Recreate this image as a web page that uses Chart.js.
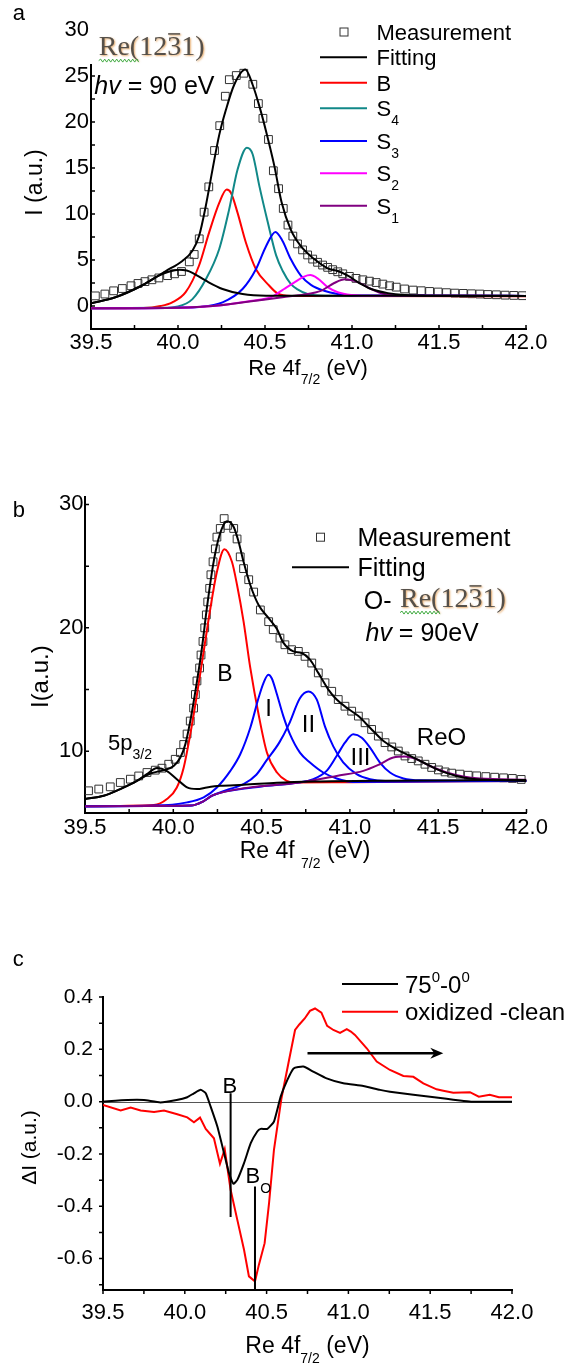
<!DOCTYPE html>
<html><head><meta charset="utf-8">
<script src="https://cdn.jsdelivr.net/npm/chart.js@4.4.0/dist/chart.umd.min.js"></script>
<style>
html,body{margin:0;padding:0;background:#fff;}
body{width:573px;height:1364px;position:relative;overflow:hidden;}
canvas{position:absolute;left:0;}
</style></head><body>
<canvas id="ca" width="573" height="390" style="top:0px"></canvas>
<canvas id="cb" width="573" height="400" style="top:470px"></canvas>
<canvas id="cc" width="573" height="424" style="top:940px"></canvas>
<script>
// ================= DATA =================
// shared tick labels
const xTicks = [39.5, 40.0, 40.5, 41.0, 41.5, 42.0];
const aYTicks = [0, 5, 10, 15, 20, 25, 30];
const bYTicks = [10, 20, 30];
const cYTicks = [-0.6, -0.4, -0.2, 0.0, 0.2, 0.4];

// ---- panel a: clean Re(12-31), hv = 90 eV ----
const aMeasE = [39.525,39.58,39.63,39.68,39.73,39.77,39.81,39.85,39.89,39.94,39.98,40.02,40.065,40.093,40.122,40.15,40.177,40.21,40.24,40.272,40.295,40.335,40.378,40.43,40.462,40.488,40.52,40.548,40.578,40.605,40.632,40.66,40.687,40.716,40.745,40.774,40.802,40.831,40.86,40.889,40.918,40.947,40.985,41.023,41.062,41.1,41.139,41.177,41.216,41.254,41.302,41.351,41.398,41.446,41.495,41.543,41.591,41.639,41.687,41.735,41.78,41.83,41.88,41.93,41.98];
const aMeasI = [1.1,1.3,1.65,1.9,2.2,2.45,2.65,2.85,3.05,3.3,3.5,3.75,4.8,5.6,7.3,10.2,12.95,16.9,19.6,22.8,24.6,25.05,25.3,24.1,22.0,20.4,18.1,14.7,12.75,10.6,8.8,7.6,6.75,6.1,5.55,5.1,4.75,4.45,4.2,3.95,3.72,3.5,3.22,3.0,2.85,2.7,2.55,2.38,2.2,2.05,1.85,1.73,1.66,1.58,1.52,1.45,1.4,1.37,1.33,1.3,1.25,1.22,1.18,1.15,1.12];
const aFitE = [39.5,39.64,39.79,39.93,40.025,40.083,40.121,40.16,40.198,40.237,40.275,40.323,40.387,40.429,40.468,40.506,40.554,40.595,40.648,40.706,40.783,40.86,40.918,40.976,41.033,41.11,41.206,41.302,41.5,42.0];
const aFitI = [0.3,0.95,2.2,3.8,4.9,6.0,7.6,10.9,14.8,18.6,21.3,24.05,25.7,24.05,21.7,19.0,15.2,11.3,8.3,6.5,5.1,4.1,3.8,3.3,2.6,1.85,1.4,1.2,1.12,1.1];
const a5pE = [39.5,39.64,39.79,39.89,39.95,40.006,40.05,40.083,40.16,40.256,40.371,40.506,42.0];
const a5pI = [0.3,0.95,2.2,3.3,3.75,3.95,3.85,3.6,2.75,1.85,1.3,1.12,1.1];
const aBE = [39.5,39.8,39.9,39.967,40.044,40.121,40.179,40.237,40.28,40.304,40.342,40.39,40.448,40.525,40.57,40.65,42.0];
const aBI = [-0.25,-0.22,0.0,0.4,1.5,4.4,8.0,11.2,12.65,12.3,10.15,6.9,4.0,2.2,1.4,1.1,1.05];
const aS4E = [39.5,39.9,40.0,40.083,40.16,40.237,40.294,40.342,40.396,40.429,40.468,40.516,40.564,40.602,40.648,40.687,40.745,40.85,42.0];
const aS4I = [-0.25,-0.2,-0.05,0.75,2.9,6.2,10.5,14.8,17.2,16.5,13.0,9.1,5.5,3.8,2.4,1.8,1.3,1.12,1.1];
const aS3E = [39.5,40.0,40.121,40.256,40.371,40.448,40.506,40.56,40.6,40.648,40.706,40.764,40.84,40.918,41.0,42.0];
const aS3I = [-0.25,-0.18,-0.1,0.4,1.85,4.0,6.5,8.05,7.1,5.1,3.3,2.3,1.65,1.3,1.15,1.1];
const aS2E = [39.5,40.0,40.2,40.4,40.533,40.578,40.61,40.667,40.725,40.76,40.802,40.86,40.918,40.995,41.1,42.0];
const aS2I = [-0.25,-0.18,0.0,0.5,0.95,1.45,1.85,2.55,3.2,3.36,3.0,2.05,1.5,1.2,1.12,1.1];
const aS1E = [39.5,40.0,40.2,40.4,40.6,40.725,40.821,40.898,40.96,41.033,41.11,41.187,41.3,42.0];
const aS1I = [-0.25,-0.18,0.0,0.45,0.95,1.25,1.65,2.5,2.9,2.6,1.85,1.3,1.12,1.1];

// ---- panel b: O-Re(12-31), hv = 90 eV ----
const bMeasE = [39.52,39.578,39.643,39.70,39.757,39.804,39.851,39.898,39.936,39.974,40.011,40.04,40.059,40.078,40.096,40.115,40.125,40.134,40.149,40.157,40.168,40.178,40.187,40.195,40.206,40.213,40.225,40.238,40.247,40.266,40.288,40.308,40.342,40.361,40.379,40.398,40.427,40.455,40.493,40.54,40.566,40.604,40.632,40.67,40.708,40.746,40.784,40.821,40.859,40.897,40.934,40.972,41.01,41.048,41.086,41.123,41.161,41.199,41.237,41.274,41.312,41.35,41.387,41.425,41.463,41.501,41.539,41.576,41.623,41.67,41.718,41.77,41.82,41.87,41.92,41.97];
const bMeasI = [6.8,6.94,7.12,7.47,7.74,8.0,8.28,8.47,8.63,8.95,9.35,9.9,10.55,11.4,12.45,13.5,14.6,15.7,16.75,17.8,18.9,20.0,21.05,22.1,23.2,24.3,25.35,26.4,27.35,28.05,28.85,28.3,28.05,27.2,25.75,24.8,23.9,22.9,21.45,20.5,19.85,19.17,18.63,18.23,18.09,17.69,17.15,16.35,15.55,14.86,14.19,13.65,13.25,12.85,12.31,11.77,11.23,10.7,10.35,10.02,9.62,9.41,9.22,8.95,8.69,8.49,8.33,8.23,8.15,8.06,8.01,7.95,7.9,7.85,7.8,7.72];
const bFitE = [39.5,39.606,39.7,39.794,39.87,39.946,40.002,40.04,40.068,40.096,40.134,40.162,40.19,40.219,40.247,40.275,40.304,40.342,40.37,40.398,40.436,40.483,40.54,40.587,40.623,40.68,40.727,40.774,40.821,40.878,40.925,40.99,41.048,41.114,41.19,41.265,41.341,41.416,41.491,41.567,41.642,41.718,41.85,42.0];
const bFitI = [6.13,6.4,6.94,7.6,8.2,8.47,8.81,9.49,10.56,12.44,15.67,18.36,21.59,24.54,26.69,28.04,28.63,28.17,26.96,25.35,23.47,21.85,20.78,19.9,18.8,18.09,17.96,17.42,16.35,15.0,14.19,13.44,12.85,11.91,10.83,10.16,9.62,9.09,8.55,8.15,7.88,7.74,7.65,7.6];
const b5pE = [39.5,39.606,39.7,39.794,39.85,39.908,39.964,40.02,40.078,40.134,40.19,40.266,40.398,40.587,40.8,41.2,42.0];
const b5pI = [6.13,6.4,6.94,7.6,8.15,8.65,8.4,7.74,7.07,6.94,7.07,7.2,7.28,7.45,7.55,7.62,7.68];
const bBE = [39.5,39.89,39.964,40.02,40.059,40.096,40.134,40.172,40.21,40.247,40.289,40.332,40.361,40.398,40.436,40.483,40.53,40.587,40.642,40.68,41.0,42.0];
const bBI = [5.55,5.64,6.13,7.07,8.69,11.37,14.6,18.09,21.59,24.54,26.37,25.35,23.47,20.51,16.75,12.98,9.9,8.28,7.6,7.47,7.5,7.6];
const bP1E = [39.5,39.9,40.078,40.172,40.247,40.323,40.379,40.436,40.483,40.51,40.538,40.558,40.585,40.623,40.661,40.717,40.774,40.849,40.925,41.019,42.0];
const bP1I = [5.55,5.6,5.86,6.27,7.07,8.41,9.76,11.91,14.33,15.5,16.2,15.9,14.7,12.85,11.37,9.89,9.09,8.28,7.8,7.52,7.6];
const bP2E = [39.5,40.1,40.17,40.22,40.3,40.4,40.47,40.53,40.6,40.655,40.717,40.765,40.812,40.859,40.906,40.962,41.038,41.114,41.2,42.0];
const bP2I = [5.55,5.6,5.95,6.4,6.85,7.35,8.1,9.3,10.7,12.2,14.3,14.85,14.2,12.0,10.4,9.1,8.15,7.74,7.6,7.6];
const bP3E = [39.5,40.1,40.17,40.22,40.3,40.5,40.7,40.793,40.868,40.925,40.972,41.019,41.067,41.114,41.17,41.227,41.303,41.4,42.0];
const bP3I = [5.55,5.6,5.95,6.4,6.75,7.15,7.45,7.74,8.41,9.62,10.7,11.37,11.1,10.3,9.09,8.28,7.8,7.65,7.6];
const bReOE = [39.5,40.1,40.17,40.22,40.3,40.45,40.6,40.736,40.925,41.076,41.17,41.246,41.312,41.378,41.454,41.548,41.642,41.736,42.0];
const bReOI = [5.55,5.6,5.95,6.4,6.75,7.1,7.3,7.52,8.0,8.41,8.95,9.49,9.57,9.35,8.81,8.28,7.96,7.8,7.7];

// ---- panel c: difference spectra ----
const cAngE = [39.5,39.65,39.75,39.85,39.95,40.015,40.056,40.097,40.128,40.158,40.199,40.24,40.27,40.297,40.321,40.362,40.403,40.443,40.464,40.505,40.545,40.586,40.627,40.665,40.724,40.785,40.867,40.969,41.091,41.193,41.254,41.397,41.499,41.6,41.682,41.75,42.0];
const cAngI = [0.0,0.006,0.006,-0.003,0.006,0.017,0.032,0.045,0.032,-0.019,-0.095,-0.197,-0.273,-0.314,-0.299,-0.235,-0.159,-0.114,-0.104,-0.104,-0.076,0.019,0.083,0.127,0.134,0.115,0.089,0.07,0.06,0.045,0.038,0.026,0.019,0.011,0.004,0.0,0.0];
const cOxE = [39.5,39.608,39.669,39.73,39.812,39.873,39.954,40.015,40.056,40.093,40.128,40.178,40.215,40.244,40.28,40.321,40.362,40.392,40.429,40.453,40.488,40.515,40.545,40.59,40.633,40.674,40.70,40.733,40.765,40.796,40.835,40.87,40.908,40.949,40.99,41.015,41.04,41.112,41.173,41.254,41.336,41.397,41.458,41.539,41.58,41.641,41.743,41.797,41.864,41.92,42.0];
const cOxI = [-0.013,-0.034,-0.023,-0.034,-0.04,-0.034,-0.048,-0.06,-0.079,-0.061,-0.104,-0.14,-0.238,-0.182,-0.337,-0.452,-0.566,-0.668,-0.687,-0.623,-0.541,-0.388,-0.184,0.01,0.146,0.274,0.295,0.318,0.347,0.356,0.34,0.29,0.274,0.263,0.277,0.268,0.255,0.204,0.153,0.121,0.098,0.095,0.07,0.047,0.042,0.034,0.036,0.019,0.026,0.017,0.017];

// ================= HELPERS =================
const FONT = 'Liberation Sans';
const SERIF = 'Liberation Serif';
Chart.defaults.font.family = FONT;
Chart.defaults.color = '#000';

const pts = (E, I) => E.map((e, k) => ({x: e, y: I[k]}));
function curve(E, I, color, order, tension) {
  const d = {data: pts(E, I), showLine: true, borderColor: color, backgroundColor: color,
    borderWidth: 2, pointRadius: 0, pointHoverRadius: 0, order};
  if (tension === undefined) d.cubicInterpolationMode = 'monotone'; else d.tension = tension;
  return d;
}
function meas(E, I, order) {
  return {data: pts(E, I), showLine: false, pointStyle: 'rect', pointRadius: 5.5, pointHoverRadius: 5.5,
    pointBorderColor: '#333', pointBackgroundColor: 'rgba(0,0,0,0)', pointBorderWidth: 1, order};
}
function xAxis(h, pad, size) {
  return {type: 'linear', min: 39.5, max: 42.0,
    afterBuildTicks: s => { s.ticks = xTicks.map(v => ({value: v})); },
    afterFit: s => { s.height = h; },
    grid: {display: false, drawTicks: false},
    border: {display: true, color: '#000', width: 2},
    ticks: {padding: pad, color: '#000', font: {family: FONT, size: size}, autoSkip: false, maxRotation: 0,
      callback: v => Number(v).toFixed(1)}};
}
function yAxis(min, max, tv, w, pad, size, dec) {
  return {type: 'linear', min: min, max: max,
    afterBuildTicks: s => { s.ticks = tv.map(v => ({value: v})); },
    afterFit: s => { s.width = w; },
    grid: {display: false, drawTicks: false},
    border: {display: true, color: '#000', width: 2},
    ticks: {padding: pad, color: '#000', font: {family: FONT, size: size}, autoSkip: false,
      callback: v => dec ? Number(v).toFixed(dec) : String(v)}};
}
function baseOpts(padTop, padRight, scales) {
  return {responsive: false, animation: false, devicePixelRatio: 1,
    layout: {padding: {left: 0, right: padRight, top: padTop, bottom: 0}},
    plugins: {legend: {display: false}, tooltip: {enabled: false}},
    events: [], scales: scales};
}
// rich text: parts [text, kind] kind '', 'i', 'sub', 'sup'
function rich(ctx, parts, x, yc, size, opts) {
  opts = opts || {};
  const fam = opts.family || FONT;
  const fnt = k => (k === 'i' ? 'italic ' : '') + ((k === 'sub' || k === 'sup') ? Math.round(size * 0.62) : size) + 'px "' + fam + '"';
  let w = 0;
  for (const [t, k] of parts) { ctx.font = fnt(k); w += ctx.measureText(t).width; }
  let cx = opts.align === 'center' ? x - w / 2 : opts.align === 'right' ? x - w : x;
  const base = yc + size * 0.36;
  ctx.textAlign = 'left'; ctx.textBaseline = 'alphabetic'; ctx.fillStyle = opts.color || '#000';
  for (const [t, k] of parts) {
    ctx.font = fnt(k);
    const dy = k === 'sub' ? size * 0.42 : k === 'sup' ? -size * 0.45 : 0;
    ctx.fillText(t, cx, base + dy);
    cx += ctx.measureText(t).width;
  }
}
function vtext(ctx, parts, x, yc, size) {
  ctx.save(); ctx.translate(x, yc); ctx.rotate(-Math.PI / 2);
  rich(ctx, parts, 0, 0, size, {align: 'center'}); ctx.restore();
}
function reLabel(ctx, x, yc, size) {
  ctx.save();
  ctx.font = size + 'px "' + SERIF + '"';
  ctx.textAlign = 'left'; ctx.textBaseline = 'alphabetic';
  const base = yc + size * 0.25;
  const s1 = 'Re(12', s2 = '3', s3 = '1)';
  const w1 = ctx.measureText(s1).width, w2 = ctx.measureText(s2).width, wRe = ctx.measureText('Re(').width;
  ctx.shadowColor = 'rgba(225,150,70,0.8)'; ctx.shadowBlur = 2; ctx.shadowOffsetX = 1; ctx.shadowOffsetY = 1;
  ctx.fillStyle = '#55504a';
  ctx.fillText(s1, x, base); ctx.fillText(s2, x + w1, base); ctx.fillText(s3, x + w1 + w2, base);
  ctx.fillRect(x + w1 + 1, base - size * 0.78, w2 - 2, 1.5);
  ctx.shadowColor = 'rgba(0,0,0,0)';
  // spell-check squiggle
  ctx.strokeStyle = '#3faa3f'; ctx.lineWidth = 1; ctx.beginPath();
  const sy = base + size * 0.2;
  for (let i = 0, px = x; px <= x + wRe; i++, px += 2) { if (i === 0) ctx.moveTo(px, sy); else ctx.lineTo(px, sy + (i % 2 ? -1.5 : 1.5)); }
  ctx.stroke();
  ctx.restore();
}
function axisTicks(chart, xStep, yStep, len, outward) {
  const {ctx, chartArea: ca, scales: {x, y}} = chart;
  ctx.save(); ctx.strokeStyle = '#000'; ctx.lineWidth = 1.5; ctx.beginPath();
  for (let v = x.min; v <= x.max + 1e-9; v += xStep) {
    const p = x.getPixelForValue(v); ctx.moveTo(p, ca.bottom); ctx.lineTo(p, ca.bottom + (outward ? len : -len));
  }
  const y0 = Math.ceil(y.min / yStep - 1e-9) * yStep;
  for (let v = y0; v <= y.max + 1e-9; v += yStep) {
    const p = y.getPixelForValue(v); ctx.moveTo(ca.left, p); ctx.lineTo(ca.left + (outward ? -len : len), p);
  }
  ctx.stroke(); ctx.restore();
}
function legLine(ctx, x1, x2, y, color) {
  ctx.save(); ctx.strokeStyle = color; ctx.lineWidth = 2; ctx.beginPath(); ctx.moveTo(x1, y); ctx.lineTo(x2, y); ctx.stroke(); ctx.restore();
}
function legSquare(ctx, cx, cy) {
  ctx.save(); ctx.strokeStyle = '#333'; ctx.lineWidth = 1; ctx.strokeRect(cx - 4, cy - 4, 8, 8); ctx.restore();
}
function panelLetter(ctx, t, x, base) {
  ctx.save(); ctx.font = '22px "' + FONT + '"'; ctx.fillStyle = '#000'; ctx.textBaseline = 'alphabetic'; ctx.textAlign = 'left';
  ctx.fillText(t, x, base); ctx.restore();
}

// ================= PANEL A =================
const decoA = {id: 'decoA', afterDraw(chart) {
  const ctx = chart.ctx;
  axisTicks(chart, 0.25, 2.5, 4, false);
  // cover the axis behind the pasted label
  ctx.save(); ctx.fillStyle = '#fff'; ctx.fillRect(89.5, 20, 126, 44); ctx.restore();
  reLabel(ctx, 98.7, 48, 28);
  rich(ctx, [['hv', 'i'], [' = 90 eV', '']], 94.3, 85, 25);
  panelLetter(ctx, 'a', 12.8, 20);
  // legend
  legSquare(ctx, 344, 32);
  rich(ctx, [['Measurement', '']], 376.5, 32.3, 22);
  const items = [[57.3, '#000', [['Fitting', '']]], [82.7, '#ff0000', [['B', '']]],
    [108.3, '#118888', [['S', ''], ['4', 'sub']]], [141, '#0000ff', [['S', ''], ['3', 'sub']]],
    [173.3, '#ff00ff', [['S', ''], ['2', 'sub']]], [205.7, '#800080', [['S', ''], ['1', 'sub']]]];
  for (const [yy, col, parts] of items) { legLine(ctx, 320, 367, yy, col); rich(ctx, parts, 376.5, yy, 22); }
  // axis titles
  vtext(ctx, [['I (a.u.)', '']], 34, 182.5, 23);
  rich(ctx, [['Re 4f', ''], ['7/2', 'sub'], [' (eV)', '']], 308, 367, 22, {align: 'center'});
}};
new Chart(document.getElementById('ca'), {
  type: 'scatter',
  data: {datasets: [
    curve(aFitE, aFitI, '#000000', 0),
    curve(a5pE, a5pI, '#000000', 1),
    curve(aS1E, aS1I, '#800080', 2),
    curve(aS2E, aS2I, '#ff00ff', 3),
    curve(aS3E, aS3I, '#0000ff', 4),
    curve(aS4E, aS4I, '#118888', 5),
    curve(aBE, aBI, '#ff0000', 6),
    meas(aMeasE, aMeasI, 7)
  ]},
  options: baseOpts(30, 573 - 526, {x: xAxis(61, 1, 22), y: yAxis(-2.5, 30, aYTicks, 91, 2, 22)}),
  plugins: [decoA]
});

// ================= PANEL B =================
const decoB = {id: 'decoB', afterDraw(chart) {
  const ctx = chart.ctx;
  axisTicks(chart, 0.25, 5, 4, false);
  panelLetter(ctx, 'b', 12.8, 46.7);
  legSquare(ctx, 320.5, 67.2);
  rich(ctx, [['Measurement', '']], 357.5, 67.3, 25);
  legLine(ctx, 292, 349, 97.3, '#000');
  rich(ctx, [['Fitting', '']], 357.5, 97.3, 25);
  rich(ctx, [['O-', '']], 363.7, 130, 25);
  reLabel(ctx, 400, 130, 28);
  rich(ctx, [['hv', 'i'], [' = 90eV', '']], 365.5, 161.7, 25);
  rich(ctx, [['B', '']], 225, 202.5, 23, {align: 'center'});
  rich(ctx, [['I', '']], 268.6, 237.5, 24, {align: 'center'});
  rich(ctx, [['II', '']], 308.5, 253.3, 24, {align: 'center'});
  rich(ctx, [['III', '']], 360.5, 286.7, 24, {align: 'center'});
  rich(ctx, [['ReO', '']], 441.5, 266.7, 24, {align: 'center'});
  rich(ctx, [['5p', ''], ['3/2', 'sub']], 108, 271.7, 22);
  vtext(ctx, [['I(a.u.)', '']], 39, 206.7, 24);
  rich(ctx, [['Re 4f ', ''], ['7/2', 'sub'], [' (eV)', '']], 305, 380, 23, {align: 'center'});
}};
new Chart(document.getElementById('cb'), {
  type: 'scatter',
  data: {datasets: [
    curve(bFitE, bFitI, '#000000', 0),
    curve(b5pE, b5pI, '#000000', 1),
    curve(bReOE, bReOI, '#800080', 2),
    curve(bP3E, bP3I, '#0000ff', 3),
    curve(bP2E, bP2I, '#0000ff', 4),
    curve(bP1E, bP1I, '#0000ff', 5),
    curve(bBE, bBI, '#ff0000', 6),
    meas(bMeasE, bMeasI, 7)
  ]},
  options: baseOpts(27, 573 - 526.5, {x: xAxis(57, 2, 22), y: yAxis(5, 30.6, bYTicks, 85, 1.5, 22)}),
  plugins: [decoB]
});

// ================= PANEL C =================
const markB = {e: 40.28, top: 0.032, bottom: -0.441};
const markBo = {e: 40.429, top: -0.324, bottom: -0.72};
const shiftArrow = {from: 40.75, to: 41.58, level: 0.185};
const decoC = {id: 'decoC', beforeDatasetsDraw(chart) {
  const {ctx, chartArea: ca, scales: {x, y}} = chart;
  ctx.save(); ctx.strokeStyle = '#555'; ctx.lineWidth = 1; ctx.beginPath();
  const p0 = Math.round(y.getPixelForValue(0)) + 0.5;
  ctx.moveTo(ca.left, p0); ctx.lineTo(ca.right, p0); ctx.stroke(); ctx.restore();
}, afterDraw(chart) {
  const {ctx, scales: {x, y}} = chart;
  axisTicks(chart, 0.25, 0.1, 4, true);
  panelLetter(ctx, 'c', 12.8, 26);
  ctx.save(); ctx.strokeStyle = '#000'; ctx.lineWidth = 2; ctx.beginPath();
  for (const m of [markB, markBo]) { const px = x.getPixelForValue(m.e); ctx.moveTo(px, y.getPixelForValue(m.top)); ctx.lineTo(px, y.getPixelForValue(m.bottom)); }
  ctx.stroke();
  // arrow
  const ax1 = x.getPixelForValue(shiftArrow.from), ax2 = x.getPixelForValue(shiftArrow.to), ay = y.getPixelForValue(shiftArrow.level);
  ctx.lineWidth = 2.5; ctx.beginPath(); ctx.moveTo(ax1, ay); ctx.lineTo(ax2 - 6, ay); ctx.stroke();
  ctx.fillStyle = '#000'; ctx.beginPath(); ctx.moveTo(ax2, ay); ctx.lineTo(ax2 - 13, ay - 5.5); ctx.lineTo(ax2 - 9, ay); ctx.lineTo(ax2 - 13, ay + 5.5); ctx.closePath(); ctx.fill();
  ctx.restore();
  rich(ctx, [['B', '']], 229.8, 145, 22, {align: 'center'});
  rich(ctx, [['B', ''], ['O', 'sub']], 245.5, 235.5, 22);
  // legend
  legLine(ctx, 342, 398, 44, '#000');
  rich(ctx, [['75', ''], ['0', 'sup'], ['-0', ''], ['0', 'sup']], 405, 44, 24);
  legLine(ctx, 342, 398, 71.7, '#ff0000');
  rich(ctx, [['oxidized -clean', '']], 405, 71.7, 24);
  vtext(ctx, [['\u0394I (a.u.)', '']], 28.3, 207.5, 21);
  rich(ctx, [['Re 4f', ''], ['7/2', 'sub'], [' (eV)', '']], 307.5, 405, 23, {align: 'center'});
}};
new Chart(document.getElementById('cc'), {
  type: 'scatter',
  data: {datasets: [
    curve(cAngE, cAngI, '#000000', 0, 0.15),
    curve(cOxE, cOxI, '#ff0000', 1, 0)
  ]},
  options: baseOpts(57, 573 - 512, {x: xAxis(74, 10, 22), y: yAxis(-0.72, 0.4, cYTicks, 103, 10, 21, 1)}),
  plugins: [decoC]
});
</script>
</body></html>
